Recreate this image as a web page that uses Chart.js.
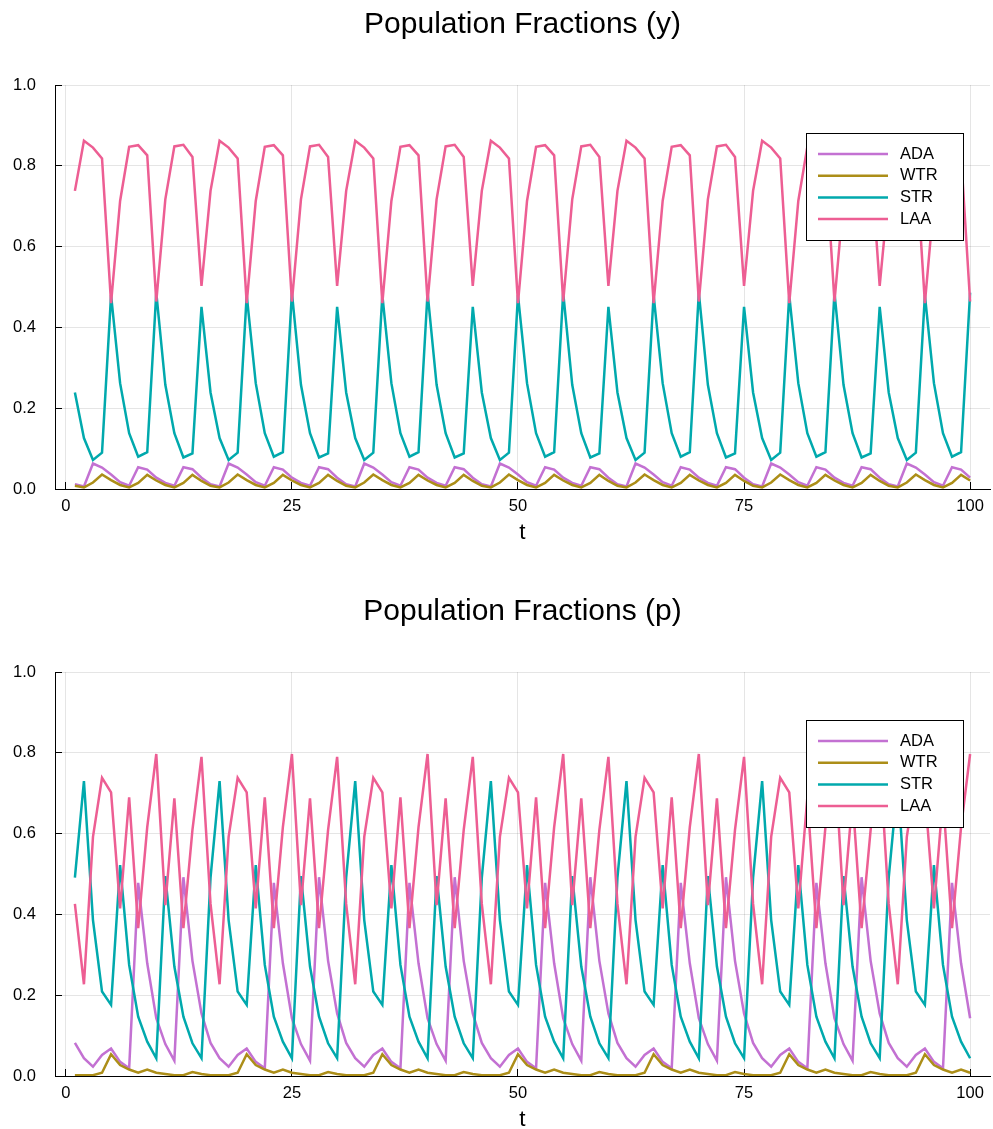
<!DOCTYPE html>
<html>
<head>
<meta charset="utf-8">
<script src="https://cdn.jsdelivr.net/npm/chart.js@4"></script>
<style>
  html, body { margin: 0; padding: 0; background: #fff; overflow: hidden; }
  .panel { position: absolute; left: 0; width: 993px; height: 565px; }
  #panelY { top: 0; }
  #panelP { top: 587px; }
</style>
</head>
<body>
<div class="panel" id="panelY"><canvas id="chartY" width="993" height="565"></canvas></div>
<div class="panel" id="panelP"><canvas id="chartP" width="993" height="565"></canvas></div>
<script>
// time steps 1..100
var tSteps = Array.from({ length: 100 }, function (_, i) { return i + 1; });

var seriesNames = ['ADA', 'WTR', 'STR', 'LAA'];
var seriesColors = ['#C371D2', '#AC8E18', '#00A9AD', '#ED5E93'];

var xTicks = [0, 25, 50, 75, 100];
var yTicks = [0, 0.2, 0.4, 0.6, 0.8, 1.0];

// fractions y (one 15-step cycle per line)
var adaY = [
  0.012, 0.006, 0.063, 0.053, 0.036, 0.017, 0.008, 0.054, 0.048, 0.028, 0.015, 0.008, 0.054, 0.049, 0.028,
  0.012, 0.006, 0.063, 0.053, 0.036, 0.017, 0.008, 0.054, 0.048, 0.028, 0.015, 0.008, 0.054, 0.049, 0.028,
  0.012, 0.006, 0.063, 0.053, 0.036, 0.017, 0.008, 0.054, 0.048, 0.028, 0.015, 0.008, 0.054, 0.049, 0.028,
  0.012, 0.006, 0.063, 0.053, 0.036, 0.017, 0.008, 0.054, 0.048, 0.028, 0.015, 0.008, 0.054, 0.049, 0.028,
  0.012, 0.006, 0.063, 0.053, 0.036, 0.017, 0.008, 0.054, 0.048, 0.028, 0.015, 0.008, 0.054, 0.049, 0.028,
  0.012, 0.006, 0.063, 0.053, 0.036, 0.017, 0.008, 0.054, 0.048, 0.028, 0.015, 0.008, 0.054, 0.049, 0.028,
  0.012, 0.006, 0.063, 0.053, 0.036, 0.017, 0.008, 0.054, 0.048, 0.028
];
var wtrY = [
  0.008, 0.004, 0.016, 0.036, 0.022, 0.010, 0.004, 0.015, 0.035, 0.021, 0.010, 0.004, 0.015, 0.035, 0.020,
  0.008, 0.004, 0.016, 0.036, 0.022, 0.010, 0.004, 0.015, 0.035, 0.021, 0.010, 0.004, 0.015, 0.035, 0.020,
  0.008, 0.004, 0.016, 0.036, 0.022, 0.010, 0.004, 0.015, 0.035, 0.021, 0.010, 0.004, 0.015, 0.035, 0.020,
  0.008, 0.004, 0.016, 0.036, 0.022, 0.010, 0.004, 0.015, 0.035, 0.021, 0.010, 0.004, 0.015, 0.035, 0.020,
  0.008, 0.004, 0.016, 0.036, 0.022, 0.010, 0.004, 0.015, 0.035, 0.021, 0.010, 0.004, 0.015, 0.035, 0.020,
  0.008, 0.004, 0.016, 0.036, 0.022, 0.010, 0.004, 0.015, 0.035, 0.021, 0.010, 0.004, 0.015, 0.035, 0.020,
  0.008, 0.004, 0.016, 0.036, 0.022, 0.010, 0.004, 0.015, 0.035, 0.021
];
var strY = [
  0.239, 0.126, 0.072, 0.090, 0.480, 0.262, 0.138, 0.080, 0.091, 0.486, 0.258, 0.138, 0.078, 0.088, 0.451,
  0.239, 0.126, 0.072, 0.090, 0.480, 0.262, 0.138, 0.080, 0.091, 0.486, 0.258, 0.138, 0.078, 0.088, 0.451,
  0.239, 0.126, 0.072, 0.090, 0.480, 0.262, 0.138, 0.080, 0.091, 0.486, 0.258, 0.138, 0.078, 0.088, 0.451,
  0.239, 0.126, 0.072, 0.090, 0.480, 0.262, 0.138, 0.080, 0.091, 0.486, 0.258, 0.138, 0.078, 0.088, 0.451,
  0.239, 0.126, 0.072, 0.090, 0.480, 0.262, 0.138, 0.080, 0.091, 0.486, 0.258, 0.138, 0.078, 0.088, 0.451,
  0.239, 0.126, 0.072, 0.090, 0.480, 0.262, 0.138, 0.080, 0.091, 0.486, 0.258, 0.138, 0.078, 0.088, 0.451,
  0.239, 0.126, 0.072, 0.090, 0.480, 0.262, 0.138, 0.080, 0.091, 0.486
];
var laaY = [
  0.738, 0.862, 0.845, 0.818, 0.460, 0.713, 0.847, 0.851, 0.826, 0.464, 0.717, 0.848, 0.852, 0.822, 0.503,
  0.738, 0.862, 0.845, 0.818, 0.460, 0.713, 0.847, 0.851, 0.826, 0.464, 0.717, 0.848, 0.852, 0.822, 0.503,
  0.738, 0.862, 0.845, 0.818, 0.460, 0.713, 0.847, 0.851, 0.826, 0.464, 0.717, 0.848, 0.852, 0.822, 0.503,
  0.738, 0.862, 0.845, 0.818, 0.460, 0.713, 0.847, 0.851, 0.826, 0.464, 0.717, 0.848, 0.852, 0.822, 0.503,
  0.738, 0.862, 0.845, 0.818, 0.460, 0.713, 0.847, 0.851, 0.826, 0.464, 0.717, 0.848, 0.852, 0.822, 0.503,
  0.738, 0.862, 0.845, 0.818, 0.460, 0.713, 0.847, 0.851, 0.826, 0.464, 0.717, 0.848, 0.852, 0.822, 0.503,
  0.738, 0.862, 0.845, 0.818, 0.460, 0.713, 0.847, 0.851, 0.826, 0.464
];

// fractions p
var adaP = [
  0.082, 0.044, 0.023, 0.052, 0.068, 0.035, 0.019, 0.478, 0.279, 0.143, 0.079, 0.038, 0.492, 0.285, 0.155,
  0.082, 0.044, 0.023, 0.052, 0.068, 0.035, 0.019, 0.478, 0.279, 0.143, 0.079, 0.038, 0.492, 0.285, 0.155,
  0.082, 0.044, 0.023, 0.052, 0.068, 0.035, 0.019, 0.478, 0.279, 0.143, 0.079, 0.038, 0.492, 0.285, 0.155,
  0.082, 0.044, 0.023, 0.052, 0.068, 0.035, 0.019, 0.478, 0.279, 0.143, 0.079, 0.038, 0.492, 0.285, 0.155,
  0.082, 0.044, 0.023, 0.052, 0.068, 0.035, 0.019, 0.478, 0.279, 0.143, 0.079, 0.038, 0.492, 0.285, 0.155,
  0.082, 0.044, 0.023, 0.052, 0.068, 0.035, 0.019, 0.478, 0.279, 0.143, 0.079, 0.038, 0.492, 0.285, 0.155,
  0.082, 0.044, 0.023, 0.052, 0.068, 0.035, 0.019, 0.478, 0.279, 0.143
];
var wtrP = [
  0.002, 0.002, 0.002, 0.008, 0.054, 0.027, 0.016, 0.008, 0.016, 0.008, 0.005, 0.002, 0.002, 0.010, 0.005,
  0.002, 0.002, 0.002, 0.008, 0.054, 0.027, 0.016, 0.008, 0.016, 0.008, 0.005, 0.002, 0.002, 0.010, 0.005,
  0.002, 0.002, 0.002, 0.008, 0.054, 0.027, 0.016, 0.008, 0.016, 0.008, 0.005, 0.002, 0.002, 0.010, 0.005,
  0.002, 0.002, 0.002, 0.008, 0.054, 0.027, 0.016, 0.008, 0.016, 0.008, 0.005, 0.002, 0.002, 0.010, 0.005,
  0.002, 0.002, 0.002, 0.008, 0.054, 0.027, 0.016, 0.008, 0.016, 0.008, 0.005, 0.002, 0.002, 0.010, 0.005,
  0.002, 0.002, 0.002, 0.008, 0.054, 0.027, 0.016, 0.008, 0.016, 0.008, 0.005, 0.002, 0.002, 0.010, 0.005,
  0.002, 0.002, 0.002, 0.008, 0.054, 0.027, 0.016, 0.008, 0.016, 0.008
];
var strP = [
  0.491, 0.730, 0.386, 0.209, 0.176, 0.522, 0.275, 0.147, 0.085, 0.044, 0.495, 0.271, 0.147, 0.081, 0.044,
  0.491, 0.730, 0.386, 0.209, 0.176, 0.522, 0.275, 0.147, 0.085, 0.044, 0.495, 0.271, 0.147, 0.081, 0.044,
  0.491, 0.730, 0.386, 0.209, 0.176, 0.522, 0.275, 0.147, 0.085, 0.044, 0.495, 0.271, 0.147, 0.081, 0.044,
  0.491, 0.730, 0.386, 0.209, 0.176, 0.522, 0.275, 0.147, 0.085, 0.044, 0.495, 0.271, 0.147, 0.081, 0.044,
  0.491, 0.730, 0.386, 0.209, 0.176, 0.522, 0.275, 0.147, 0.085, 0.044, 0.495, 0.271, 0.147, 0.081, 0.044,
  0.491, 0.730, 0.386, 0.209, 0.176, 0.522, 0.275, 0.147, 0.085, 0.044, 0.495, 0.271, 0.147, 0.081, 0.044,
  0.491, 0.730, 0.386, 0.209, 0.176, 0.522, 0.275, 0.147, 0.085, 0.044
];
var laaP = [
  0.426, 0.227, 0.592, 0.738, 0.702, 0.415, 0.690, 0.366, 0.616, 0.797, 0.423, 0.687, 0.366, 0.609, 0.790,
  0.426, 0.227, 0.592, 0.738, 0.702, 0.415, 0.690, 0.366, 0.616, 0.797, 0.423, 0.687, 0.366, 0.609, 0.790,
  0.426, 0.227, 0.592, 0.738, 0.702, 0.415, 0.690, 0.366, 0.616, 0.797, 0.423, 0.687, 0.366, 0.609, 0.790,
  0.426, 0.227, 0.592, 0.738, 0.702, 0.415, 0.690, 0.366, 0.616, 0.797, 0.423, 0.687, 0.366, 0.609, 0.790,
  0.426, 0.227, 0.592, 0.738, 0.702, 0.415, 0.690, 0.366, 0.616, 0.797, 0.423, 0.687, 0.366, 0.609, 0.790,
  0.426, 0.227, 0.592, 0.738, 0.702, 0.415, 0.690, 0.366, 0.616, 0.797, 0.423, 0.687, 0.366, 0.609, 0.790,
  0.426, 0.227, 0.592, 0.738, 0.702, 0.415, 0.690, 0.366, 0.616, 0.797
];

Chart.defaults.font.family = '"Liberation Sans", Arial, Helvetica, sans-serif';
Chart.defaults.color = '#000';

// legend box drawn inside the plot, on top of the lines
var boxLegend = {
  id: 'boxLegend',
  afterDatasetsDraw: function (chart) {
    var ctx = chart.ctx;
    var area = chart.chartArea;
    var w = 157, h = 107;
    var left = area.right - 27 - w;
    var top = area.top + 48;
    ctx.save();
    ctx.fillStyle = '#fff';
    ctx.fillRect(left, top, w, h);
    ctx.strokeStyle = '#000';
    ctx.lineWidth = 1;
    ctx.strokeRect(Math.round(left) + 0.5, Math.round(top) + 0.5, w, h);
    ctx.font = '16.5px "Liberation Sans", Arial, sans-serif';
    ctx.textBaseline = 'middle';
    ctx.textAlign = 'left';
    chart.data.datasets.forEach(function (ds, i) {
      var y = top + 21 + i * 21.7;
      ctx.strokeStyle = ds.borderColor;
      ctx.lineWidth = ds.borderWidth;
      ctx.beginPath();
      ctx.moveTo(left + 12, y);
      ctx.lineTo(left + 82, y);
      ctx.stroke();
      ctx.fillStyle = '#000';
      ctx.fillText(ds.label, left + 94, y);
    });
    ctx.restore();
  }
};

function toPoints(values) {
  return values.map(function (v, i) { return { x: tSteps[i], y: v }; });
}

function makeChart(canvasId, titleText, seriesList) {
  var datasets = seriesList.map(function (values, i) {
    return {
      label: seriesNames[i],
      data: toPoints(values),
      borderColor: seriesColors[i],
      backgroundColor: seriesColors[i],
      borderWidth: 2.5,
      pointRadius: 0,
      tension: 0,
      fill: false,
      order: seriesList.length - i
    };
  });

  var ctx = document.getElementById(canvasId).getContext('2d');
  return new Chart(ctx, {
    type: 'line',
    data: { datasets: datasets },
    options: {
      responsive: false,
      animation: false,
      layout: { padding: { left: 0, right: 3, top: 0, bottom: 0 } },
      scales: {
        x: {
          type: 'linear',
          min: -1.2,
          max: 102.2,
          afterBuildTicks: function (s) { s.ticks = xTicks.map(function (v) { return { value: v }; }); },
          afterFit: function (s) {
            s.height = 76;
            s.paddingLeft = 0;
            s.paddingRight = 0;
          },
          grid: { color: 'rgba(0, 0, 0, 0.1)', lineWidth: 1, tickColor: '#000', tickLength: -7 },
          border: { color: '#000', width: 1 },
          ticks: { font: { size: 16.5 }, padding: 15, maxRotation: 0 },
          title: { display: true, text: 't', font: { size: 22.5 }, padding: { top: 0, bottom: 18.5 } }
        },
        y: {
          min: 0,
          max: 1,
          afterBuildTicks: function (s) { s.ticks = yTicks.map(function (v) { return { value: v }; }); },
          afterFit: function (s) {
            s.width = 55;
            s.paddingTop = 0;
            s.paddingBottom = 0;
          },
          grid: { color: 'rgba(0, 0, 0, 0.1)', lineWidth: 1, tickColor: '#000', tickLength: -7 },
          border: { color: '#000', width: 1 },
          ticks: {
            font: { size: 16.5 },
            padding: 26,
            callback: function (v) { return Number(v).toFixed(1); }
          }
        }
      },
      plugins: {
        legend: { display: false },
        tooltip: { enabled: false },
        title: {
          display: true,
          fullSize: false,
          text: titleText,
          font: { size: 30, weight: 'normal' },
          padding: { top: 7, bottom: 42 }
        }
      }
    },
    plugins: [boxLegend]
  });
}

makeChart('chartY', 'Population Fractions (y)', [adaY, wtrY, strY, laaY]);
makeChart('chartP', 'Population Fractions (p)', [adaP, wtrP, strP, laaP]);
</script>
</body>
</html>
